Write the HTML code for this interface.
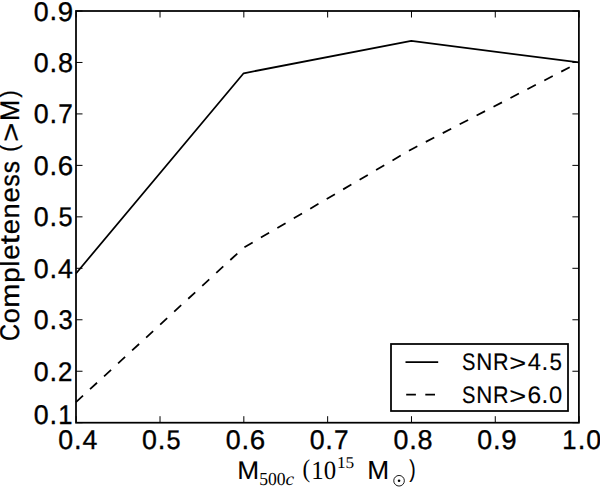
<!DOCTYPE html>
<html><head><meta charset="utf-8"><style>
html,body{margin:0;padding:0;background:#fff;}
svg{display:block;}
text{fill:#000;font-kerning:none;text-rendering:geometricPrecision;font-family:'Liberation Sans',sans-serif;stroke:#000;stroke-width:0.35px;}
.leg text{stroke-width:0.15px;}
.xl text{stroke-width:0.1px;}
.yl text{stroke-width:0.3px;}
</style></head><body>
<svg width="600" height="487" viewBox="0 0 600 487">
<rect width="600" height="487" fill="#fff"/>
<polyline points="76.00,273.46 243.63,73.27 411.27,40.85 578.90,62.46" fill="none" stroke="#000" stroke-width="1.75" stroke-linejoin="round"/>
<polyline points="76.00,402.12 243.63,247.73 411.27,149.43 578.90,62.46" fill="none" stroke="#000" stroke-width="1.75" stroke-dasharray="9.535 9.535" stroke-linejoin="round"/>
<path d="M76.20,422.70v-6.5M76.20,11.00v6.5M160.02,422.70v-6.5M160.02,11.00v6.5M243.83,422.70v-6.5M243.83,11.00v6.5M327.65,422.70v-6.5M327.65,11.00v6.5M411.47,422.70v-6.5M411.47,11.00v6.5M495.28,422.70v-6.5M495.28,11.00v6.5M579.10,422.70v-6.5M579.10,11.00v6.5M76.00,422.70h6.5M578.90,422.70h-6.5M76.00,371.24h6.5M578.90,371.24h-6.5M76.00,319.77h6.5M578.90,319.77h-6.5M76.00,268.31h6.5M578.90,268.31h-6.5M76.00,216.85h6.5M578.90,216.85h-6.5M76.00,165.39h6.5M578.90,165.39h-6.5M76.00,113.92h6.5M578.90,113.92h-6.5M76.00,62.46h6.5M578.90,62.46h-6.5M76.00,11.00h6.5M578.90,11.00h-6.5" stroke="#000" stroke-width="1.0" fill="none"/>
<rect x="76.0" y="11.0" width="502.90" height="411.70" fill="none" stroke="#000" stroke-width="1.75"/>
<text transform="translate(33.83,424.24) scale(0.9868,1)" font-size="27.13">0</text>
<text transform="translate(49.57,424.15) scale(0.9329,1)" font-size="29.46">.</text>
<text transform="translate(58.28,424.15) scale(0.9502,1)" font-size="26.91">1</text>
<text transform="translate(33.83,380.78) scale(0.9868,1)" font-size="27.13">0</text>
<text transform="translate(49.57,380.68) scale(0.9329,1)" font-size="29.46">.</text>
<text transform="translate(58.00,380.68) scale(0.9559,1)" font-size="27.00">2</text>
<text transform="translate(33.83,329.32) scale(0.9868,1)" font-size="27.13">0</text>
<text transform="translate(49.57,329.22) scale(0.9329,1)" font-size="29.46">.</text>
<text transform="translate(58.40,329.32) scale(0.9477,1)" font-size="27.13">3</text>
<text transform="translate(33.83,277.85) scale(0.9868,1)" font-size="27.13">0</text>
<text transform="translate(49.57,277.76) scale(0.9329,1)" font-size="29.46">.</text>
<text transform="translate(58.07,277.76) scale(0.9949,1)" font-size="26.91">4</text>
<text transform="translate(33.83,226.39) scale(0.9868,1)" font-size="27.13">0</text>
<text transform="translate(49.57,226.30) scale(0.9329,1)" font-size="29.46">.</text>
<text transform="translate(58.39,226.39) scale(0.9341,1)" font-size="27.05">5</text>
<text transform="translate(33.83,174.93) scale(0.9868,1)" font-size="27.13">0</text>
<text transform="translate(49.57,174.83) scale(0.9329,1)" font-size="29.46">.</text>
<text transform="translate(57.81,174.93) scale(1.0213,1)" font-size="27.13">6</text>
<text transform="translate(33.83,123.47) scale(0.9868,1)" font-size="27.13">0</text>
<text transform="translate(49.57,123.37) scale(0.9329,1)" font-size="29.46">.</text>
<text transform="translate(58.18,123.37) scale(0.9731,1)" font-size="26.91">7</text>
<text transform="translate(33.83,72.00) scale(0.9868,1)" font-size="27.13">0</text>
<text transform="translate(49.57,71.91) scale(0.9329,1)" font-size="29.46">.</text>
<text transform="translate(57.99,72.00) scale(0.9975,1)" font-size="27.13">8</text>
<text transform="translate(33.83,20.54) scale(0.9868,1)" font-size="27.13">0</text>
<text transform="translate(49.57,20.45) scale(0.9329,1)" font-size="29.46">.</text>
<text transform="translate(57.74,20.54) scale(1.0192,1)" font-size="27.13">9</text>
<text transform="translate(58.18,448.69) scale(0.9868,1)" font-size="27.13">0</text>
<text transform="translate(73.92,448.60) scale(0.9329,1)" font-size="29.46">.</text>
<text transform="translate(82.41,448.60) scale(0.9949,1)" font-size="26.91">4</text>
<text transform="translate(142.00,448.69) scale(0.9868,1)" font-size="27.13">0</text>
<text transform="translate(157.74,448.60) scale(0.9329,1)" font-size="29.46">.</text>
<text transform="translate(166.55,448.70) scale(0.9341,1)" font-size="27.05">5</text>
<text transform="translate(225.81,448.69) scale(0.9868,1)" font-size="27.13">0</text>
<text transform="translate(241.55,448.60) scale(0.9329,1)" font-size="29.46">.</text>
<text transform="translate(249.79,448.69) scale(1.0213,1)" font-size="27.13">6</text>
<text transform="translate(309.63,448.69) scale(0.9868,1)" font-size="27.13">0</text>
<text transform="translate(325.37,448.60) scale(0.9329,1)" font-size="29.46">.</text>
<text transform="translate(333.98,448.60) scale(0.9731,1)" font-size="26.91">7</text>
<text transform="translate(393.45,448.69) scale(0.9868,1)" font-size="27.13">0</text>
<text transform="translate(409.19,448.60) scale(0.9329,1)" font-size="29.46">.</text>
<text transform="translate(417.60,448.69) scale(0.9975,1)" font-size="27.13">8</text>
<text transform="translate(477.26,448.69) scale(0.9868,1)" font-size="27.13">0</text>
<text transform="translate(493.00,448.60) scale(0.9329,1)" font-size="29.46">.</text>
<text transform="translate(501.17,448.69) scale(1.0192,1)" font-size="27.13">9</text>
<text transform="translate(562.30,448.60) scale(0.9502,1)" font-size="26.91">1</text>
<text transform="translate(577.82,448.60) scale(0.9329,1)" font-size="29.46">.</text>
<text transform="translate(586.32,448.69) scale(0.9868,1)" font-size="27.13">0</text>
<rect x="391.0" y="344.0" width="177.0" height="67.0" fill="#fff" stroke="#000" stroke-width="1.75"/>
<path d="M405.5,362.1H438.2" stroke="#000" stroke-width="1.75"/>
<path d="M406.2,394.7H438.2" stroke="#000" stroke-width="1.75" stroke-dasharray="9.7 9.4"/>
<g class="leg">
<text transform="translate(462.07,370.18) scale(0.8345,1)" font-size="24.04">S</text>
<text transform="translate(476.17,370.10) scale(0.9322,1)" font-size="23.84">N</text>
<text transform="translate(493.06,370.10) scale(0.9026,1)" font-size="23.84">R</text>
<text transform="translate(509.20,370.85) scale(1.2226,1)" font-size="23.71">&gt;</text>
<text transform="translate(527.65,370.10) scale(0.9949,1)" font-size="23.84">4</text>
<text transform="translate(541.60,370.10) scale(0.9329,1)" font-size="26.10">.</text>
<text transform="translate(549.41,370.18) scale(0.9341,1)" font-size="23.96">5</text>
<text transform="translate(462.07,403.28) scale(0.8345,1)" font-size="24.04">S</text>
<text transform="translate(476.17,403.20) scale(0.9322,1)" font-size="23.84">N</text>
<text transform="translate(493.06,403.20) scale(0.9026,1)" font-size="23.84">R</text>
<text transform="translate(509.20,403.95) scale(1.2226,1)" font-size="23.71">&gt;</text>
<text transform="translate(527.42,403.28) scale(1.0213,1)" font-size="24.04">6</text>
<text transform="translate(541.60,403.20) scale(0.9329,1)" font-size="26.10">.</text>
<text transform="translate(549.12,403.28) scale(0.9868,1)" font-size="24.04">0</text>
</g>
<g class="yl" transform="translate(19.1,341.3) rotate(-90)">
<text transform="translate(0.23,0.09) scale(0.8690,1)" font-size="27.13">C</text>
<text transform="translate(18.00,0.10) scale(1.0143,1)" font-size="26.62">o</text>
<text transform="translate(33.66,0.00) scale(1.0947,1)" font-size="26.44">m</text>
<text transform="translate(58.54,-0.15) scale(1.0554,1)" font-size="26.18">p</text>
<text transform="translate(74.79,0.00) scale(0.9749,1)" font-size="26.63">l</text>
<text transform="translate(81.43,0.10) scale(1.0305,1)" font-size="26.62">e</text>
<text transform="translate(96.99,-0.21) scale(1.2454,1)" font-size="27.26">t</text>
<text transform="translate(107.02,0.10) scale(1.0305,1)" font-size="26.62">e</text>
<text transform="translate(122.90,0.00) scale(1.0359,1)" font-size="26.44">n</text>
<text transform="translate(138.75,0.10) scale(1.0305,1)" font-size="26.62">e</text>
<text transform="translate(154.84,0.10) scale(0.9121,1)" font-size="26.69">s</text>
<text transform="translate(168.07,0.10) scale(0.9121,1)" font-size="26.69">s</text>
<text transform="translate(189.53,-1.68) scale(0.8842,1)" font-size="24.28">(</text>
<text transform="translate(199.66,0.85) scale(1.2226,1)" font-size="26.77">&gt;</text>
<text transform="translate(220.28,0.00) scale(0.9410,1)" font-size="26.91">M</text>
<text transform="translate(243.69,-1.68) scale(0.8842,1)" font-size="24.28">)</text>
</g>
<g class="xl">
<text transform="translate(237.24,478.60) scale(1.0403,1)" font-size="25.29" style="font-family:'Liberation Sans', sans-serif;" >M</text>
<text transform="translate(259.28,485.42) scale(0.9575,1)" font-size="18.38" style="font-family:'Liberation Serif', serif;stroke:none;" >500</text>
<text transform="translate(285.40,485.42) scale(1.0595,1)" font-size="18.30" style="font-family:'Liberation Serif', serif;stroke:none;font-style:italic" >c</text>
<text transform="translate(302.39,477.15) scale(0.8978,1)" font-size="25.59" style="font-family:'Liberation Serif', serif;stroke:none;" >(</text>
<text transform="translate(311.32,479.44) scale(0.9465,1)" font-size="26.23" style="font-family:'Liberation Serif', serif;stroke:none;" >10</text>
<text transform="translate(336.98,468.14) scale(1.0439,1)" font-size="16.57" style="font-family:'Liberation Serif', serif;stroke:none;" >15</text>
<text transform="translate(367.14,478.90) scale(1.0112,1)" font-size="26.02" style="font-family:'Liberation Sans', sans-serif;" >M</text>
<circle cx="399.05" cy="480.75" r="5.3" fill="none" stroke="#000" stroke-width="0.9"/><circle cx="399.05" cy="480.75" r="1.3" fill="#000"/>
<text transform="translate(409.29,477.28) scale(0.7929,1)" font-size="24.26" style="font-family:'Liberation Sans', sans-serif;" >)</text>
</g>
</svg>
</body></html>
